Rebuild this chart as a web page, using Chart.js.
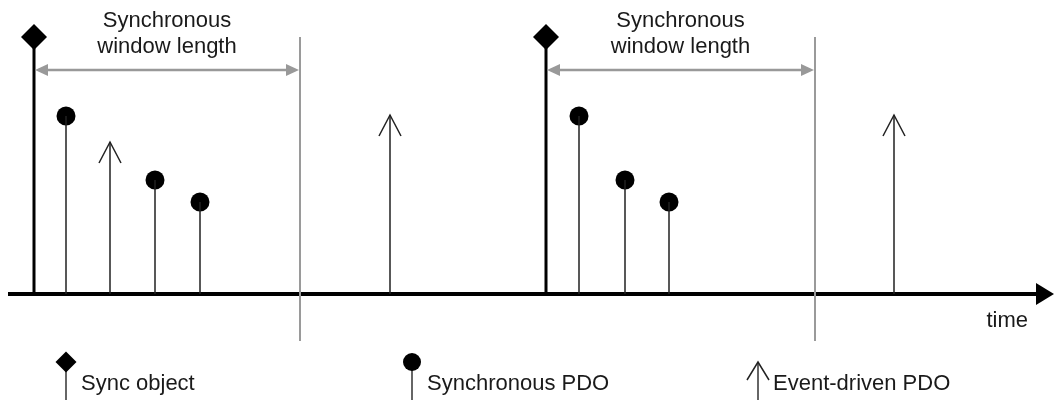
<!DOCTYPE html>
<html>
<head>
<meta charset="utf-8">
<script src="https://cdn.jsdelivr.net/npm/chart.js@4.4.1/dist/chart.umd.min.js"></script>
<style>
  html, body { margin: 0; padding: 0; background: #fff; }
  #wrap { width: 1055px; height: 401px; position: relative; }
</style>
</head>
<body>
<div id="wrap"><canvas id="chart"></canvas></div>
<script>
// --- diagram values (time on x, height above the time axis on y) ---
const syncTimes = [34, 546];
const syncHeight = 257;
const windowEnds = [300, 815];
const windowArrowHeight = 224;
const windowLineBottom = -47;
const syncPdoTimes = [66, 155, 200, 579, 625, 669];
const syncPdoHeights = [178, 114, 92, 178, 114, 92];
const eventPdoTimes = [110, 390, 894];
const eventPdoHeights = [152, 179, 179];
const axisStart = 8;
const axisEnd = 1054;
const windowLabel = ['Synchronous', 'window length'];
const axisLabel = 'time';
const legendLabels = ['Sync object', 'Synchronous PDO', 'Event-driven PDO'];

const FONT = '22px "Liberation Sans", Arial, sans-serif';
const TEXT_COLOR = '#1a1a1a';

// turn x/height lists into one broken line: a vertical stem per item
function stems(xs, hs, bottom) {
    const out = [];
    xs.forEach((t, i) => {
        out.push({ x: t, y: bottom === undefined ? 0 : bottom });
        out.push({ x: t, y: Array.isArray(hs) ? hs[i] : hs });
        out.push({ x: t, y: null });
    });
    return out;
}

function openHead(ctx, px, py, w, h) {
    ctx.beginPath();
    ctx.moveTo(px - w, py + h);
    ctx.lineTo(px, py);
    ctx.lineTo(px + w, py + h);
    ctx.stroke();
}

function solidHead(ctx, px, py, dir, len, half) {
    ctx.beginPath();
    ctx.moveTo(px, py);
    ctx.lineTo(px - dir * len, py - half);
    ctx.lineTo(px - dir * len, py + half);
    ctx.closePath();
    ctx.fill();
}

const diagramPlugin = {
    id: 'diagram',
    beforeDatasetsDraw(chart) {
        const { ctx, scales: { x, y } } = chart;
        const y0 = y.getPixelForValue(0);
        const tip = x.getPixelForValue(axisEnd);
        ctx.save();
        // time axis
        ctx.strokeStyle = '#000';
        ctx.fillStyle = '#000';
        ctx.lineWidth = 4;
        ctx.beginPath();
        ctx.moveTo(x.getPixelForValue(axisStart), y0);
        ctx.lineTo(tip - 12, y0);
        ctx.stroke();
        solidHead(ctx, tip, y0, 1, 18, 11);
        ctx.restore();
    },
    afterDatasetsDraw(chart) {
        const { ctx, scales: { x, y } } = chart;
        ctx.save();

        // event-driven PDO arrow heads
        ctx.strokeStyle = '#222';
        ctx.lineWidth = 1.5;
        eventPdoTimes.forEach((t, i) => {
            openHead(ctx, x.getPixelForValue(t), y.getPixelForValue(eventPdoHeights[i]), 11, 21);
        });

        // synchronous window arrows + labels
        const ay = y.getPixelForValue(windowArrowHeight);
        syncTimes.forEach((t, i) => {
            const x1 = x.getPixelForValue(t) + 1;
            const x2 = x.getPixelForValue(windowEnds[i]) - 1;
            ctx.strokeStyle = '#999';
            ctx.fillStyle = '#999';
            ctx.lineWidth = 2.5;
            ctx.beginPath();
            ctx.moveTo(x1 + 10, ay);
            ctx.lineTo(x2 - 10, ay);
            ctx.stroke();
            solidHead(ctx, x1, ay, -1, 13, 6);
            solidHead(ctx, x2, ay, 1, 13, 6);

            ctx.fillStyle = TEXT_COLOR;
            ctx.font = FONT;
            ctx.textAlign = 'center';
            ctx.textBaseline = 'alphabetic';
            const cx = (x1 + x2) / 2;
            ctx.fillText(windowLabel[0], cx, ay - 43);
            ctx.fillText(windowLabel[1], cx, ay - 17);
        });

        // axis label
        ctx.fillStyle = TEXT_COLOR;
        ctx.font = FONT;
        ctx.textAlign = 'right';
        ctx.fillText(axisLabel, x.getPixelForValue(1028), y.getPixelForValue(0) + 33);

        // legend
        const gy = 362, sy = 400, ty = 390;
        const lx = [66, 412, 758];
        ctx.textAlign = 'left';
        lx.forEach((px, i) => {
            ctx.strokeStyle = '#333';
            ctx.lineWidth = 1.5;
            ctx.beginPath();
            ctx.moveTo(px, gy);
            ctx.lineTo(px, sy);
            ctx.stroke();
            ctx.fillStyle = '#000';
            if (i === 0) {
                ctx.beginPath();
                ctx.moveTo(px, gy - 10.5);
                ctx.lineTo(px + 10.5, gy);
                ctx.lineTo(px, gy + 10.5);
                ctx.lineTo(px - 10.5, gy);
                ctx.closePath();
                ctx.fill();
            } else if (i === 1) {
                ctx.beginPath();
                ctx.arc(px, gy, 9, 0, Math.PI * 2);
                ctx.fill();
            } else {
                ctx.strokeStyle = '#222';
                openHead(ctx, px, gy, 11, 18);
            }
            ctx.fillStyle = TEXT_COLOR;
            ctx.fillText(legendLabels[i], px + 15, ty);
        });

        ctx.restore();
    }
};

const lineDefaults = { type: 'line', pointRadius: 0, spanGaps: false, fill: false, tension: 0 };

new Chart(document.getElementById('chart'), {
    type: 'scatter',
    data: {
        datasets: [
            Object.assign({}, lineDefaults, {
                label: 'window end',
                data: stems(windowEnds, syncHeight, windowLineBottom),
                borderColor: '#9a9a9a',
                borderWidth: 2
            }),
            Object.assign({}, lineDefaults, {
                label: 'event stems',
                data: stems(eventPdoTimes, eventPdoHeights),
                borderColor: '#222',
                borderWidth: 1.5
            }),
            Object.assign({}, lineDefaults, {
                label: 'pdo stems',
                data: stems(syncPdoTimes, syncPdoHeights),
                borderColor: '#222',
                borderWidth: 1.5
            }),
            Object.assign({}, lineDefaults, {
                label: 'sync stems',
                data: stems(syncTimes, syncHeight),
                borderColor: '#000',
                borderWidth: 3
            }),
            {
                label: 'Synchronous PDO',
                data: syncPdoTimes.map((t, i) => ({ x: t, y: syncPdoHeights[i] })),
                pointStyle: 'circle',
                pointRadius: 9.5,
                backgroundColor: '#000',
                borderColor: '#000',
                borderWidth: 0
            },
            {
                label: 'Sync object',
                data: syncTimes.map(t => ({ x: t, y: syncHeight })),
                pointStyle: 'rectRot',
                pointRadius: 13,
                backgroundColor: '#000',
                borderColor: '#000',
                borderWidth: 0
            }
        ]
    },
    options: {
        responsive: true,
        maintainAspectRatio: false,
        animation: false,
        layout: { padding: 0, autoPadding: false },
        plugins: { legend: { display: false }, tooltip: { enabled: false } },
        scales: {
            x: { type: 'linear', min: 0, max: 1055, display: false },
            y: { type: 'linear', min: -107, max: 294, display: false }
        }
    },
    plugins: [diagramPlugin]
});
</script>
</body>
</html>
